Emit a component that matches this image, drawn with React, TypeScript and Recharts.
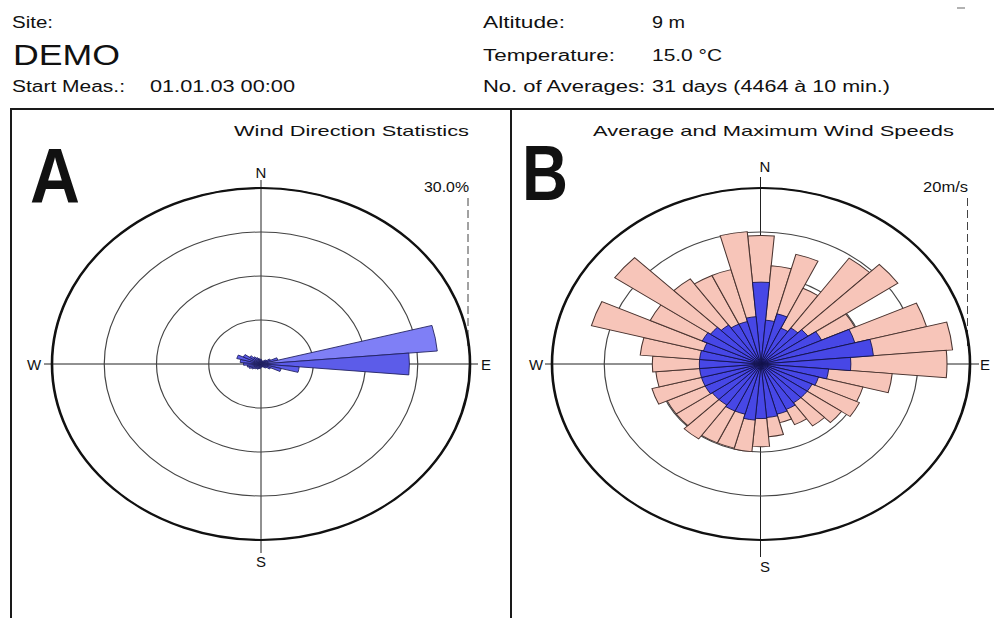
import React from 'react';
import { RadialBarChart, RadialBar, PolarGrid, PolarAngleAxis, PolarRadiusAxis, Cell } from 'recharts';

// wind direction bins (degrees, 10° sectors centred on the direction)
const directions = [0, 10, 20, 30, 40, 50, 60, 70, 80, 90, 100, 110, 120, 130, 140, 150, 160, 170,
  180, 190, 200, 210, 220, 230, 240, 250, 260, 270, 280, 290, 300, 310, 320, 330, 340, 350];

// A: frequency of occurrence [%]
const frequency = [0.8, 0.6, 0.5, 0.6, 0.8, 1.0, 1.5, 2.5, 25.4, 21.3, 5.5, 3.0, 1.5, 1.0, 0.8, 0.6, 0.5, 0.5,
  0.6, 0.8, 0.8, 1.0, 1.0, 1.2, 1.5, 1.8, 2.0, 2.5, 3.0, 3.6, 2.8, 2.0, 1.5, 1.2, 1.0, 0.8];

// B: average and maximum wind speed [m/s]
const avgSpeed = [9.3, 5.0, 5.9, 4.5, 5.0, 5.5, 6.4, 9.3, 10.8, 8.6, 6.5, 5.7, 5.4, 5.4, 5.4, 5.7, 5.9, 6.1,
  6.2, 6.4, 5.9, 5.9, 5.7, 5.7, 5.9, 5.9, 5.9, 5.9, 5.9, 5.7, 6.2, 5.9, 5.4, 5.0, 5.0, 5.4];
const maxSpeed = [14.6, 11.2, 12.9, 9.5, 14.7, 16.0, 9.9, 16.4, 18.4, 17.8, 12.6, 10.1, 10.4, 9.4, 8.6, 7.6, 6.9, 8.3,
  9.4, 10.0, 9.9, 9.9, 10.4, 9.9, 9.9, 10.8, 10.1, 10.4, 11.6, 16.8, 11.7, 17.1, 11.8, 11.1, 11.1, 15.1];

const freqTicks = [0, 7.5, 15, 22.5, 30];
const speedTicks = [0, 5, 10, 15, 20];

const freqData = directions.map((dir, i) => ({ dir, freq: frequency[i] }));
const maxData = directions.map((dir, i) => ({ dir, max: maxSpeed[i] }));
const avgData = directions.map((dir, i) => ({ dir, avg: avgSpeed[i] }));

const FONT = '"Liberation Sans", Arial, Helvetica, sans-serif';
const SIZE = 400;
const R = 176;
const RX = 209;
const CY = 364;
const CX_A = 261;
const CX_B = 760.5;

const T = ({ x, y, size = 16, len, anchor = 'start', weight = 400, children }: any) => (
  <text x={x} y={y} fontSize={size} fontWeight={weight} textAnchor={anchor} fill="#111"
    textLength={len} lengthAdjust="spacingAndGlyphs" fontFamily={FONT}>{children}</text>
);

// circular polar chart squeezed into the ellipse of the original print
const Stretch = ({ cx, children }: any) => (
  <div style={{
    position: 'absolute', left: cx - SIZE / 2, top: CY - SIZE / 2, width: SIZE, height: SIZE,
    transform: `scaleX(${RX / R})`, transformOrigin: '50% 50%',
  }}>{children}</div>
);

// bars grow counter-clockwise from the band start, so the first band starts 5° right of north
const chartProps = {
  width: SIZE, height: SIZE, cx: SIZE / 2, cy: SIZE / 2, innerRadius: 0, outerRadius: R,
  startAngle: 85, endAngle: -275, layout: 'centric' as const, barCategoryGap: 0, barGap: 0,
  margin: { top: 0, right: 0, bottom: 0, left: 0 },
};

const Cross = ({ cx, n, s, w, e }: any) => (
  <g stroke="#222" strokeWidth={1}>
    <line x1={w} y1={CY} x2={e} y2={CY} />
    <line x1={cx} y1={n} x2={cx} y2={s} />
  </g>
);

export default function App() {
  return (
    <div style={{ position: 'absolute', left: 0, top: 0, width: 994, height: 618, background: '#fff', overflow: 'hidden' }}>
      <svg width={994} height={618} style={{ position: 'absolute', left: 0, top: 0 }}>
        {/* header */}
        <T x={12} y={28} len={41}>Site:</T>
        <T x={13} y={65} size={30} len={107}>DEMO</T>
        <T x={12} y={92} len={113}>Start Meas.:</T>
        <T x={150} y={92} len={145}>01.01.03 00:00</T>
        <T x={483} y={28} len={82}>Altitude:</T>
        <T x={652} y={28} len={33}>9 m</T>
        <T x={483} y={61} len={132}>Temperature:</T>
        <T x={652} y={61} len={70}>15.0 °C</T>
        <T x={483} y={92} len={162}>No. of Averages:</T>
        <T x={652} y={92} len={238}>31 days (4464 à 10 min.)</T>
        <line x1={957} y1={8} x2={965} y2={8} stroke="#999" strokeWidth={1.5} />

        {/* frames */}
        <g stroke="#1a1a1a" strokeWidth={2}>
          <line x1={10} y1={109} x2={994} y2={109} />
          <line x1={11} y1={108} x2={11} y2={618} />
          <line x1={511} y1={108} x2={511} y2={618} />
        </g>

        {/* panel titles */}
        <T x={234} y={136} size={15} len={235}>Wind Direction Statistics</T>
        <T x={593} y={136} size={15} len={361}>Average and Maximum Wind Speeds</T>
        <T x={30} y={203} size={78} weight={700} len={50}>A</T>
        <T x={522} y={200} size={78} weight={700} len={46}>B</T>

        <Cross cx={CX_A} n={180} s={553} w={44} e={478} />
        <Cross cx={CX_B} n={177} s={557} w={545} e={979} />

        {/* compass labels */}
        <T x={261} y={178} size={15} anchor="middle">N</T>
        <T x={261} y={567} size={15} anchor="middle">S</T>
        <T x={34} y={370} size={15} anchor="middle">W</T>
        <T x={486} y={370} size={15} anchor="middle">E</T>
        <T x={765} y={172} size={15} anchor="middle">N</T>
        <T x={765} y={572} size={15} anchor="middle">S</T>
        <T x={536} y={370} size={15} anchor="middle">W</T>
        <T x={985} y={370} size={15} anchor="middle">E</T>

        {/* scale markers */}
        <T x={424} y={192} size={14} len={45}>30.0%</T>
        <T x={923} y={192} size={14} len={45}>20m/s</T>
        <line x1={CX_A + RX - 2} y1={198} x2={CX_A + RX - 2} y2={346} stroke="#444" strokeDasharray="8 4" />
        <line x1={CX_B + RX - 2} y1={198} x2={CX_B + RX - 2} y2={346} stroke="#444" strokeDasharray="8 4" />
      </svg>

      {/* A: wind direction statistics */}
      <Stretch cx={CX_A}>
        <RadialBarChart {...chartProps} data={freqData}>
          <PolarGrid gridType="circle" radialLines={false} stroke="#444" strokeWidth={1} />
          <PolarAngleAxis type="category" dataKey="dir" tick={false} tickLine={false}
            axisLineType="circle" stroke="#111" strokeWidth={2.2} />
          <PolarRadiusAxis type="number" domain={[0, 30]} ticks={freqTicks} tick={false} axisLine={false} />
          <RadialBar dataKey="freq" isAnimationActive={false} stroke="#20205e" strokeWidth={0.8}>
            {freqData.map((d, i) => (
              <Cell key={`f-${i}`} fill={d.dir === 80 ? '#7f7ff6' : '#5c5ce9'} />
            ))}
          </RadialBar>
        </RadialBarChart>
      </Stretch>

      {/* B: maximum (pink) with average (blue) on top */}
      <Stretch cx={CX_B}>
        <div style={{ position: 'absolute', left: 0, top: 0 }}>
          <RadialBarChart {...chartProps} data={maxData}>
            <PolarGrid gridType="circle" radialLines={false} stroke="#444" strokeWidth={1} />
            <PolarAngleAxis type="category" dataKey="dir" tick={false} tickLine={false}
              axisLineType="circle" stroke="#111" strokeWidth={2.2} />
            <PolarRadiusAxis type="number" domain={[0, 20]} ticks={speedTicks} tick={false} axisLine={false} />
            <RadialBar dataKey="max" isAnimationActive={false} fill="#f7c5b9" stroke="#4a3430" strokeWidth={0.9} />
          </RadialBarChart>
        </div>
        <div style={{ position: 'absolute', left: 0, top: 0 }}>
          <RadialBarChart {...chartProps} data={avgData}>
            <PolarAngleAxis type="category" dataKey="dir" tick={false} tickLine={false} axisLine={false} />
            <PolarRadiusAxis type="number" domain={[0, 20]} ticks={speedTicks} tick={false} axisLine={false} />
            <RadialBar dataKey="avg" isAnimationActive={false} fill="#4747e6" stroke="#12124a" strokeWidth={0.8} />
          </RadialBarChart>
        </div>
      </Stretch>
    </div>
  );
}
